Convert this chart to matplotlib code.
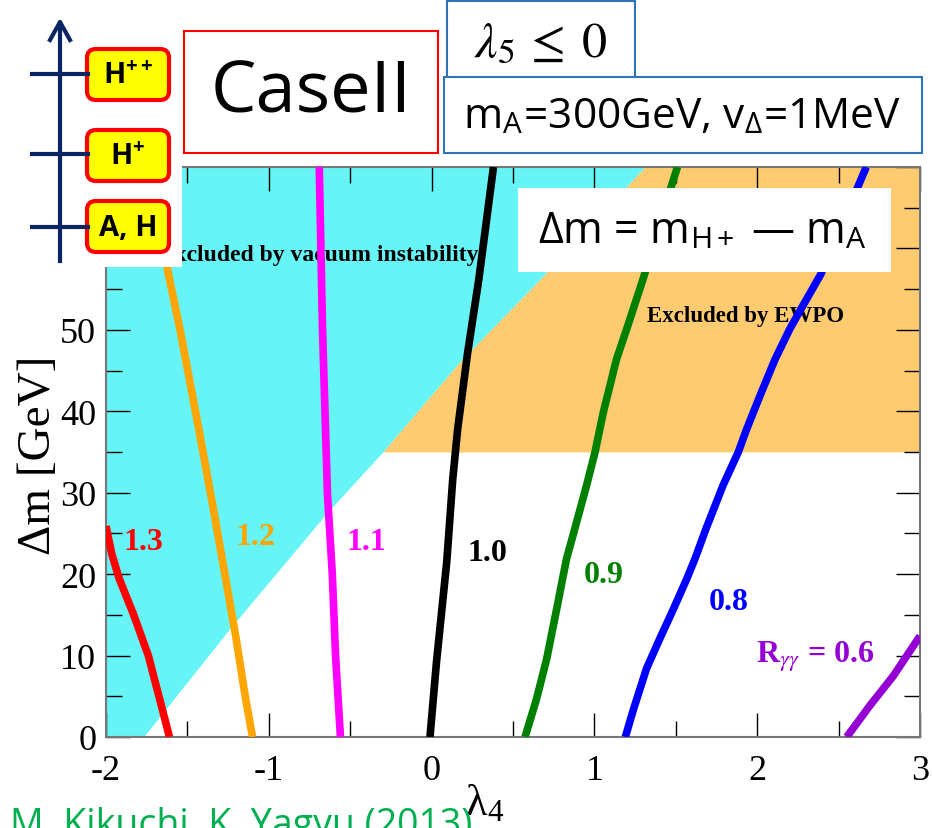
import matplotlib
matplotlib.use('Agg')
import matplotlib.pyplot as plt
from matplotlib.patches import Rectangle, FancyBboxPatch
from matplotlib.ticker import MultipleLocator

plt.rcParams['axes.unicode_minus'] = False
plt.rcParams['mathtext.fontset'] = 'stix'

# R_gamma_gamma contours: lambda4 vs delta m [GeV]
r13_x = [-1.61, -1.675, -1.74, -1.83, -1.92, -1.965, -2.0]
r13_y = [0, 5, 10, 15, 19.5, 22.5, 25.9]
r12_x = [-1.10, -1.145, -1.20, -1.27, -1.345, -1.43, -1.545, -1.61, -1.68]
r12_y = [0, 5, 12, 20, 28.5, 37.8, 50, 56.2, 63]
r11_x = [-0.56, -0.575, -0.59, -0.60, -0.61, -0.625, -0.64, -0.655, -0.67, -0.68, -0.69]
r11_y = [0, 5, 10, 15, 20, 25, 30, 40, 50, 60, 70]
r10_x = [-0.01, 0.03, 0.093, 0.13, 0.16, 0.22, 0.29, 0.38]
r10_y = [0, 9.2, 21.5, 31.7, 37.8, 47, 56.2, 70]
r09_x = [0.574, 0.645, 0.707, 0.768, 0.829, 0.88, 0.952, 1.004, 1.055, 1.136, 1.205, 1.30, 1.40, 1.51]
r09_y = [0, 4.7, 9.6, 15.7, 21.9, 25.6, 30.9, 35, 39.9, 46.4, 50.5, 56.3, 63, 70]
r08_x = [1.19, 1.24, 1.32, 1.40, 1.485, 1.567, 1.618, 1.686, 1.79, 1.884, 1.935, 2.017, 2.11, 2.20, 2.27, 2.39, 2.67]
r08_y = [0, 3.4, 8.4, 12.0, 15.7, 19.4, 21.9, 25.6, 30.9, 35, 37.8, 41.9, 46.4, 50.1, 52.6, 56.8, 70]
r06_x = [2.55, 2.69, 2.836, 3.0]
r06_y = [0, 3.8, 7.5, 12.4]

# excluded regions
vac_x = [-1.77, -1.24, -0.64, -0.30, 0.175, 0.666, 1.31]
vac_y = [0, 13.3, 27.6, 35, 46.1, 56.2, 70]
ewpo_min = 35

lines = [(r13_x, r13_y, '#ff0000', '1.3'),
         (r12_x, r12_y, '#ffa500', '1.2'),
         (r11_x, r11_y, '#ff00ff', '1.1'),
         (r10_x, r10_y, '#000000', '1.0'),
         (r09_x, r09_y, '#008000', '0.9'),
         (r08_x, r08_y, '#0000ff', '0.8'),
         (r06_x, r06_y, '#9400d3', r'R$_{\gamma\gamma}$ = 0.6')]
label_pos = [(-1.767, 24.0, 'center'), (-1.085, 24.6, 'center'), (-0.403, 24.0, 'center'),
             (0.34, 22.7, 'center'), (1.059, 20.0, 'center'), (1.827, 16.6, 'center'),
             (1.99, 10.0, 'left')]

fig = plt.figure(figsize=(9.32, 8.29), dpi=100)
ax = fig.add_axes([106/932, 1-738/829, 814/932, 570/829])
ax.set_xlim(-2, 3)
ax.set_ylim(0, 70)

ax.fill_betweenx(vac_y, -2, vac_x, color='#66f4f7', lw=0, zorder=1)
ew_y = [y for y in vac_y if y >= ewpo_min]
ew_x = [x for x, y in zip(vac_x, vac_y) if y >= ewpo_min]
ax.fill_betweenx(ew_y, ew_x, 3, color='#ffcb70', lw=0, zorder=1)

ax.text(0.29, 58.6, 'Excluded by vacuum instability', ha='right', va='baseline',
        family='Liberation Serif', fontweight='bold', fontsize=17, zorder=2)
ax.text(1.323, 51.1, 'Excluded by EWPO', ha='left', va='baseline',
        family='Liberation Serif', fontweight='bold', fontsize=16.5, zorder=2)

for (xs, ys, c, lab), (lx, ly, ha) in zip(lines, label_pos):
    ax.plot(xs, ys, color=c, lw=5.5, solid_capstyle='butt', solid_joinstyle='round', zorder=3)
    ax.text(lx, ly, lab, color=c, ha=ha, va='center', family='Liberation Serif',
            fontweight='bold', fontsize=23, zorder=4)

ax.xaxis.set_major_locator(MultipleLocator(1))
ax.xaxis.set_minor_locator(MultipleLocator(0.5))
ax.yaxis.set_major_locator(MultipleLocator(10))
ax.yaxis.set_minor_locator(MultipleLocator(5))
ax.tick_params(which='both', direction='in', top=True, right=True, color='k', width=1)
ax.tick_params(which='major', length=17)
ax.tick_params(which='minor', length=11.5)
ax.tick_params(axis='x', pad=12)
ax.tick_params(axis='y', pad=7)
for t in ax.get_xticklabels() + ax.get_yticklabels():
    t.set_family('Liberation Serif')
    t.set_fontsize(26)
for s in ax.spines.values():
    s.set_color('#777777')
    s.set_linewidth(1.5)

ax.text(-0.083, 0.496, 'Δm [GeV]', transform=ax.transAxes, rotation=90, ha='center',
        va='center', family='Liberation Serif', fontsize=34)
ax.text(0.465, -0.115, 'λ$_\\mathregular{4}$', transform=ax.transAxes, ha='center',
        va='center', family='Liberation Serif', fontsize=32)

# slide overlay, pixel coordinates
ov = fig.add_axes([0, 0, 1, 1], zorder=10)
ov.set_xlim(0, 932)
ov.set_ylim(829, 0)
ov.axis('off')

ov.add_patch(Rectangle((0, 0), 182, 268, fc='white', ec='none'))
navy = '#0b2463'
ov.plot([60, 60], [262, 24], color=navy, lw=3)
ov.plot([50, 60, 70], [41, 23, 41], color=navy, lw=3)
for yy, (y0, lab) in zip([75, 155, 228], [(50, 'H$^{\\mathregular{++}}$'),
                                          (131, 'H$^{\\mathregular{+}}$'),
                                          (202, 'A, H')]):
    ov.plot([32, 88], [yy, yy], color=navy, lw=3)
    ov.add_patch(FancyBboxPatch((87, y0), 82, 51, boxstyle='round,pad=0,rounding_size=9',
                                fc='#ffff00', ec='#ff0000', lw=3))
    ov.text(128, y0 + 26, lab, ha='center', va='center', family='Open Sans',
            fontweight='bold', fontsize=21)

ov.add_patch(Rectangle((184, 32), 254, 122, fc='white', ec='#ff0000', lw=1.5))
ov.text(311, 94, 'CaseII', ha='center', va='center', family='Open Sans', fontsize=52)

blue_edge = '#2e75b6'
ov.add_patch(Rectangle((447, 2), 188, 77, fc='white', ec=blue_edge, lw=1.5))
ov.text(541, 42, r'$\lambda_5\,\leq\;0$', ha='center', va='center', fontsize=36,
        math_fontfamily='stix')
ov.add_patch(Rectangle((444, 78), 478, 76, fc='white', ec=blue_edge, lw=1.5))
ov.text(682, 117, 'm$_\\mathregular{A}$=300GeV, v$_\\mathregular{Δ}$=1MeV', ha='center',
        va='center', family='Open Sans', fontsize=30.5)

ov.add_patch(Rectangle((518, 189), 373, 84, fc='white', ec='none'))
ov.text(702, 232, 'Δm = m$_\\mathregular{H+}$ — m$_\\mathregular{A}$', ha='center',
        va='center', family='Open Sans', fontsize=31)

ov.text(10, 836, 'M. Kikuchi, K. Yagyu (2013)', ha='left', va='baseline',
        family='Open Sans', color='#00b050', fontsize=27)

fig.savefig('out.png', dpi=100)
